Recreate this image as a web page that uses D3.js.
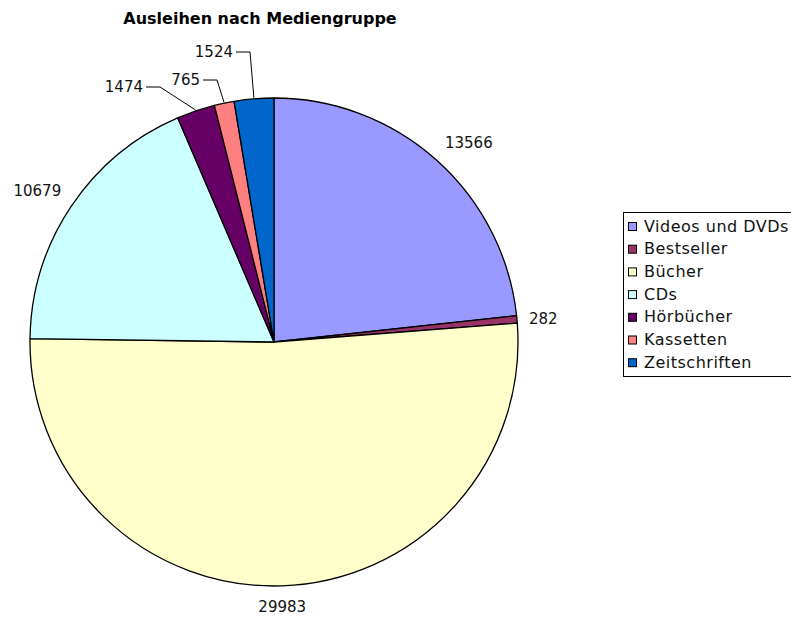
<!DOCTYPE html>
<html>
<head>
<meta charset="utf-8">
<script src="https://cdn.jsdelivr.net/npm/d3@7"></script>
<style>
  body { margin: 0; background: #fff; }
  text { font-family: "DejaVu Sans", Verdana, sans-serif; }
</style>
</head>
<body>
<script>
var w = 791, h = 617;

// data
var groups = ["Videos und DVDs", "Bestseller", "Bücher", "CDs", "Hörbücher", "Kassetten", "Zeitschriften"];
var loans  = [13566, 282, 29983, 10679, 1474, 765, 1524];
var colors = ["#9999FF", "#993366", "#FFFFCC", "#CCFFFF", "#660066", "#FF8080", "#0066CC"];

// labels that were dragged away from the pie (offset of text end from centre)
var dragged = { "Hörbücher": [-131, -251], "Kassetten": [-74, -258], "Zeitschriften": [-41, -286] };

var cx = 274, cy = 342, r = 244;

const svg = d3.select("body").append("svg").attr("width", w).attr("height", h);

svg.append("text").attr("x", 260).attr("y", 24).attr("text-anchor", "middle")
  .attr("font-size", 16).attr("font-weight", "bold").text("Ausleihen nach Mediengruppe");

var rows = groups.map(function (g, i) { return { name: g, value: loans[i], color: colors[i] }; });

var pie = d3.pie().sort(null).value(function (d) { return d.value; });
var arc = d3.arc().innerRadius(0).outerRadius(r);
var arcs = pie(rows);

var g = svg.append("g").attr("transform", "translate(" + cx + "," + cy + ")");

g.selectAll("path.slice").data(arcs).enter().append("path")
  .attr("class", "slice")
  .attr("d", arc)
  .attr("fill", function (d) { return d.data.color; })
  .attr("stroke", "#000").attr("stroke-width", 1.3).attr("stroke-linejoin", "round");

// labels
arcs.forEach(function (d) {
  var a = (d.startAngle + d.endAngle) / 2;
  var s = Math.sin(a), c = -Math.cos(a);
  var off = dragged[d.data.name];
  if (off) {
    var ex = off[0], ey = off[1];
    var px = (r + 1) * s, py = (r + 1) * c;
    g.append("polyline")
      .attr("points", [[ex + 3, ey - 4], [ex + 17, ey - 4], [px, py]].map(function (p) { return p.join(","); }).join(" "))
      .attr("fill", "none").attr("stroke", "#000").attr("stroke-width", 1);
    g.append("text").attr("x", ex).attr("y", ey).attr("dy", "0.35em")
      .attr("text-anchor", "end").attr("font-size", 15).attr("fill", "#111")
      .attr("transform", "translate(0,-4)")
      .text(d.data.value);
    return;
  }
  var rr = r + 12;
  var x = rr * s, y = rr * c;
  var anchor = s > 0.25 ? "start" : (s < -0.25 ? "end" : "middle");
  var dy = c < -0.3 ? "-0.25em" : (c > 0.3 ? "0.95em" : "0.35em");
  g.append("text").attr("x", x).attr("y", y).attr("dy", dy)
    .attr("text-anchor", anchor).attr("font-size", 15).attr("fill", "#111")
    .text(d.data.value);
});

// legend
var legend = svg.append("g").attr("transform", "translate(623,212)");
legend.append("rect").attr("x", 0.5).attr("y", 0.5).attr("width", 200).attr("height", 164)
  .attr("fill", "#fff").attr("stroke", "#000").attr("stroke-width", 1);
var item = legend.selectAll("g.item").data(rows).enter().append("g")
  .attr("class", "item")
  .attr("transform", function (d, i) { return "translate(0," + (14 + i * 22.7) + ")"; });
item.append("rect").attr("x", 5.5).attr("y", -3.5).attr("width", 8).attr("height", 8)
  .attr("fill", function (d) { return d.color; }).attr("stroke", "#000").attr("stroke-width", 1);
item.append("text").attr("x", 21).attr("y", 0).attr("dy", "0.35em")
  .attr("font-size", 16).attr("letter-spacing", 0.5).attr("fill", "#111").text(function (d) { return d.name; });
</script>
</body>
</html>
